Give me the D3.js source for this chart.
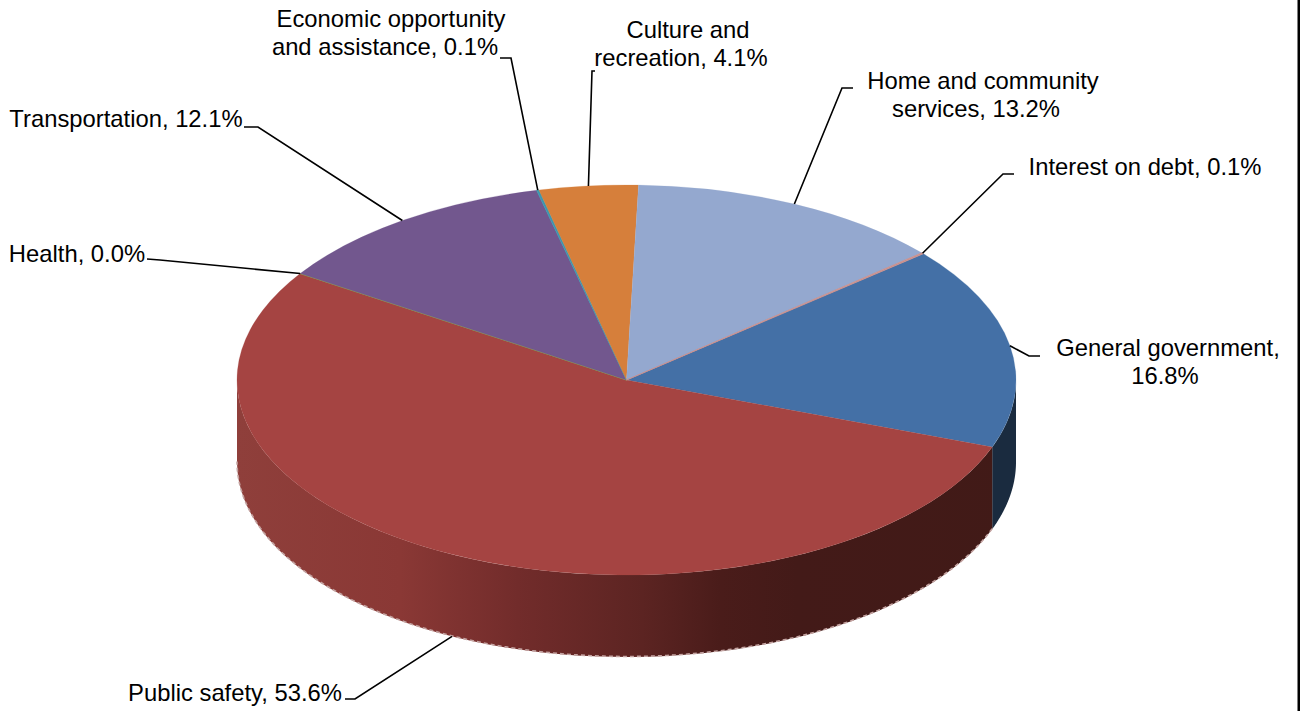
<!DOCTYPE html>
<html>
<head>
<meta charset="utf-8">
<script src="https://cdn.jsdelivr.net/npm/d3@7"></script>
<style>
  html, body { margin: 0; padding: 0; background: #fff; overflow: hidden; }
  text { font-family: "Liberation Sans", Arial, sans-serif; font-size: 23.8px; fill: #000; }
</style>
</head>
<body>
<div id="chart"></div>
<script>
const categories = ["General government", "Public safety", "Health", "Transportation",
  "Economic opportunity and assistance", "Culture and recreation", "Home and community services", "Interest on debt"];
const shares = [16.8, 53.6, 0.0, 12.1, 0.1, 4.1, 13.2, 0.1];
const colors = ["#4470a6", "#a54442", "#8aa64a", "#72578e", "#3d96ae", "#d67f3b", "#94a8cf", "#c98f8c"];
const labelLines = [
  ["General government,", "16.8%"],
  ["Public safety, 53.6%"],
  ["Health, 0.0%"],
  ["Transportation, 12.1%"],
  ["Economic opportunity", "and assistance, 0.1%"],
  ["Culture and", "recreation, 4.1%"],
  ["Home and community", "services, 13.2%"],
  ["Interest on debt, 0.1%"]
];
// centre x of each label line, first line centre y
const labelX = [[1168, 1165], [235], [77], [126], [391, 385], [688, 681], [983, 976], [1145]];
const labelY = [348, 693, 254, 119, 19, 30, 81, 167];
// leader: outer end, elbow
const leaderEnds = [[[1040, 356], [1029, 356]], [[345, 699], [355, 699]], [[147, 259], [160, 260]], [[244, 127], [258, 127]],
  [[500, 58], [511, 58]], [[595, 71], [592, 71]], [[853, 88], [842, 88]], [[1014, 174], [1003, 174]]];

const w = 1300, h = 711;
const cx = 626.5, cy = 380, rx = 389.5, ry = 195, depth = 82;
const startAngle = 49.65 * Math.PI / 180;

const svg = d3.select("#chart").append("svg").attr("width", w).attr("height", h);

const pie = d3.pie().sort(null).startAngle(startAngle).endAngle(startAngle + 2 * Math.PI);
const arcs = pie(shares);

const ex = a => cx + rx * Math.sin(a);
const ey = a => cy - ry * Math.cos(a);

// side wall shading, lighter on the left and dark on the right
const defs = svg.append("defs");
const redGrad = defs.append("linearGradient").attr("id", "wallRed")
  .attr("gradientUnits", "userSpaceOnUse").attr("x1", 237).attr("x2", 1016).attr("y1", 0).attr("y2", 0);
[[0, "#8f3f3b"], [0.21, "#8a3835"], [0.36, "#722c2b"], [0.52, "#5c2422"], [0.62, "#4a1c1a"], [0.72, "#431a18"], [1, "#411a17"]]
  .forEach(s => redGrad.append("stop").attr("offset", s[0]).attr("stop-color", s[1]));

const wallColor = i => i === 1 ? "url(#wallRed)" : d3.color(colors[i]).darker(2.7);

// outer wall of each slice, only the part facing the viewer
function wallPath(a0, a1) {
  const n = 60;
  const ts = d3.range(n + 1).map(k => a0 + (a1 - a0) * k / n);
  const top = ts.map(t => [ex(t), ey(t)]);
  const bottom = ts.slice().reverse().map(t => [ex(t), ey(t) + depth]);
  return d3.line()(top.concat(bottom)) + "Z";
}
const front0 = Math.PI / 2, front1 = 3 * Math.PI / 2;
arcs.forEach(d => {
  const pairs = [[d.startAngle, d.endAngle], [d.startAngle - 2 * Math.PI, d.endAngle - 2 * Math.PI]];
  pairs.forEach(p => {
    const a0 = Math.max(p[0], front0), a1 = Math.min(p[1], front1);
    if (a1 > a0) {
      svg.append("path").attr("d", wallPath(a0, a1)).attr("fill", wallColor(d.index));
      // stippled pale rim under the wall
      if (d.index === 1) {
        const rim = d3.range(121).map(k => {
          const t = a0 + (a1 - a0) * k / 120;
          return [ex(t), ey(t) + depth - 0.5];
        });
        svg.append("path").attr("d", d3.line()(rim)).attr("fill", "none")
          .attr("stroke", "#c4a3a1").attr("stroke-width", 1.6).attr("stroke-dasharray", "4 3");
      }
    }
  });
});

// top face
const arc = d3.arc().innerRadius(0).outerRadius(rx);
svg.append("g")
  .attr("transform", "translate(" + cx + "," + cy + ") scale(1," + (ry / rx) + ")")
  .selectAll("path")
  .data(arcs)
  .enter()
  .append("path")
  .attr("d", arc)
  .attr("fill", (d, i) => colors[i])
  .attr("stroke", (d, i) => colors[i])
  .attr("stroke-width", d => d.endAngle - d.startAngle < 0.01 ? 1 : 0.3);

// leader lines, from mid angle of the slice to the label
arcs.forEach((d, i) => {
  const mid = (d.startAngle + d.endAngle) / 2;
  const onWall = Math.cos(mid) < 0 && i === 1;
  const p = [ex(mid), ey(mid) + (onWall ? depth : 0)];
  svg.append("path")
    .attr("d", d3.line()([leaderEnds[i][0], leaderEnds[i][1], p]))
    .attr("fill", "none").attr("stroke", "#000").attr("stroke-width", 1.6);
});

// labels
categories.forEach((c, i) => {
  const t = svg.append("text").attr("text-anchor", "middle");
  labelLines[i].forEach((line, k) => {
    t.append("tspan")
      .attr("x", labelX[i][k])
      .attr("y", labelY[i] + k * 28)
      .attr("dy", "0.35em")
      .text(line);
  });
});

// right edge of the frame
svg.append("rect").attr("x", 1297.5).attr("y", 0).attr("width", 2.5).attr("height", h).attr("fill", "#000");
</script>
</body>
</html>
